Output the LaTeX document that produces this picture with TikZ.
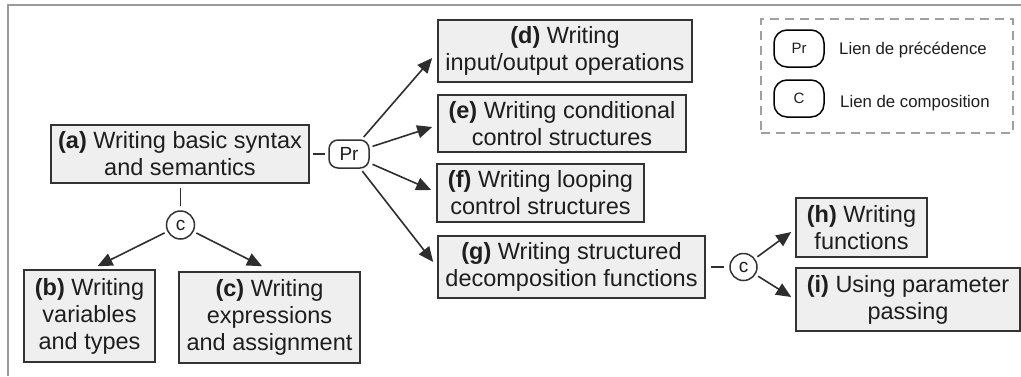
\documentclass[tikz,border=0pt]{standalone}
\usepackage{fontspec}
\setmainfont{Liberation Sans}
\usetikzlibrary{arrows.meta,calc}
\definecolor{boxfill}{HTML}{EFEFEF}
\definecolor{boxline}{HTML}{333333}
\definecolor{txt}{HTML}{1E1E1E}
\definecolor{linkcol}{HTML}{2E2E2E}
\definecolor{framecol}{HTML}{9A9A9A}
\definecolor{legcol}{HTML}{A0A0A0}
\begin{document}
\begin{tikzpicture}[x=1pt,y=-1pt,
  box/.style={draw=boxline, line width=1.6pt, fill=boxfill, align=center, inner sep=0pt,
              text=txt, font=\fontsize{23.5}{27}\selectfont},
  prnode/.style={draw=boxline, line width=1.5pt, rounded corners=9pt, fill=white, inner sep=0pt,
              minimum width=40pt, minimum height=28pt, text=txt, font=\fontsize{19}{19}\selectfont},
  cnode/.style={draw=boxline, line width=1.5pt, circle, fill=white, inner sep=0pt,
              minimum size=#1, text=txt, font=\fontsize{19}{19}\selectfont},
  lgsym/.style={draw=black, line width=1.5pt, rounded corners=13pt, inner sep=0pt,
              minimum width=50pt, minimum height=37pt, text=txt, font=\fontsize{15}{15}\selectfont},
  lgtxt/.style={anchor=west, inner sep=0pt, text=txt, font=\fontsize{16.8}{16.8}\selectfont},
  lgframe/.style={draw=legcol, line width=1.5pt, dash pattern=on 9pt off 6pt, inner sep=0pt},
  arr/.style={draw=linkcol, line width=1.6pt, -{Triangle[length=15pt,width=13pt]}},
  link/.style={draw=linkcol, line width=1.6pt},
  frame/.style={draw=framecol, line width=2pt}
]
\useasboundingbox (0,0) rectangle (1021,376);
% outer frame
\draw[frame] (8,376) -- (8,5) -- (1021,5);

% boxes
\node[box, minimum width=258pt, minimum height=58pt] (a) at (180,154)
  {\textbf{(a)} Writing basic syntax\\and semantics};
\node[box, minimum width=131pt, minimum height=92pt] (b) at (89.5,316)
  {\textbf{(b)} Writing\\variables\\and types};
\node[box, minimum width=181pt, minimum height=91pt] (c) at (269.5,317.5)
  {\textbf{(c)} Writing\\expressions\\and assignment};
\node[box, minimum width=254pt, minimum height=62pt] (d) at (565,51)
  {\textbf{(d)} Writing\\input/output operations};
\node[box, minimum width=248pt, minimum height=57pt] (e) at (562,123.5)
  {\textbf{(e)} Writing conditional\\control structures};
\node[box, minimum width=207pt, minimum height=58pt] (f) at (540.5,193)
  {\textbf{(f)} Writing looping\\control structures};
\node[box, minimum width=267pt, minimum height=62pt] (g) at (571.5,267)
  {\textbf{(g)} Writing structured\\decomposition functions};
\node[box, minimum width=131pt, minimum height=59pt] (h) at (861.5,227.5)
  {\textbf{(h)} Writing\\functions};
\node[box, minimum width=224pt, minimum height=63pt] (i) at (908,299.5)
  {\textbf{(i)} Using parameter\\passing};

% link nodes
\node[prnode] (pr) at (349,154) {Pr};
\node[cnode=28pt] (cl) at (180.5,225) {c};
\node[cnode=27pt] (cr) at (743.5,267) {c};

% connectors
\draw[link, shorten <=3.5pt, shorten >=3.5pt] (a.east) -- (pr.west);
\draw[link, shorten <=4pt, shorten >=4pt] (a.south -| cl) -- (cl.north);
\draw[link, shorten <=5pt, shorten >=5pt] (g.east) -- (cr.west);

\draw[arr, shorten <=3pt] (pr) -- ($(d.west)+(-5,7)$);
\draw[arr, shorten <=3pt] (pr) -- ($(e.west)+(-5,3.5)$);
\draw[arr, shorten <=3pt] (pr) -- ($(f.west)+(-5,-3)$);
\draw[arr, shorten <=3pt] (pr) -- ($(g.west)+(-4,-5)$);

\draw[arr, shorten <=3pt] (cl) -- ($(b.north)+(8,-3)$);
\draw[arr, shorten <=3pt] (cl) -- ($(c.north)+(-7.5,-5)$);

\draw[arr, shorten <=3pt] (cr) -- ($(h.west)+(-4,4.5)$);
\draw[arr, shorten <=3pt] (cr) -- ($(i.west)+(-4,-2.5)$);

% legend
\node[lgframe, minimum width=252pt, minimum height=114pt] (lg) at (887,76) {};
\node[lgsym] (lpr) at (799,48.5) {Pr};
\node[lgsym] (lc) at (799,98.5) {C};
\node[lgtxt] (lprt) at (839,50) {Lien de précédence};
\node[lgtxt] (lct) at (840,103) {Lien de composition};
\end{tikzpicture}
\end{document}
